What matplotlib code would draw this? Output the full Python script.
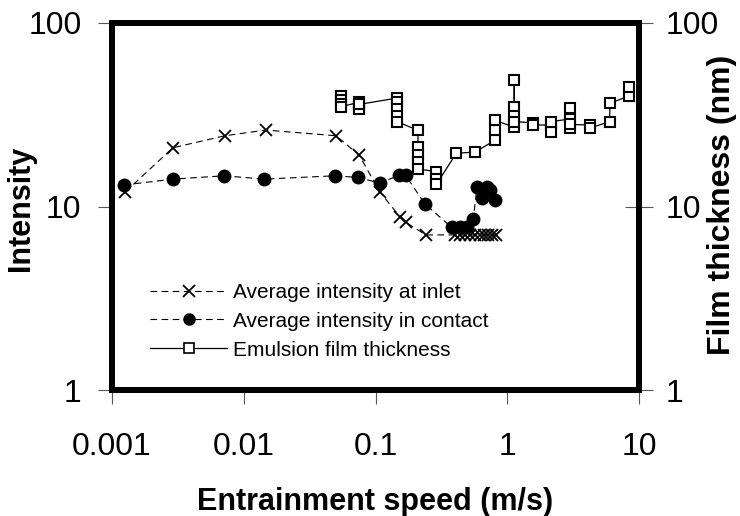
import matplotlib
matplotlib.use('Agg')
import matplotlib.pyplot as plt
from matplotlib.ticker import FixedLocator, FixedFormatter, NullLocator
from matplotlib.lines import Line2D

plt.rcParams['font.family'] = ['Liberation Sans', 'DejaVu Sans']

# ---------------- data ----------------
inlet_x = [0.00126, 0.0029, 0.0072, 0.0147, 0.050, 0.075, 0.108, 0.153, 0.170, 0.241,
           0.40, 0.44, 0.48, 0.52, 0.57, 0.62, 0.67, 0.72, 0.77, 0.82]
inlet_y = [12.0, 20.9, 24.3, 26.1, 24.3, 19.1, 12.0, 8.8, 8.2, 7.0,
           7.0, 7.0, 7.0, 7.0, 7.0, 7.0, 7.0, 7.0, 7.0, 7.0]

contact_x = [0.00123, 0.0029, 0.0071, 0.0143, 0.049, 0.074, 0.108, 0.151, 0.169, 0.238,
             0.378, 0.438, 0.492, 0.552, 0.589, 0.64, 0.70, 0.74, 0.81]
contact_y = [13.1, 14.1, 14.7, 14.1, 14.7, 14.4, 13.4, 14.8, 14.8, 10.3,
             7.7, 7.7, 7.7, 8.5, 12.8, 11.1, 12.8, 12.3, 10.8]

film_x = [0.055, 0.055, 0.055, 0.055,
          0.075, 0.075, 0.075, 0.075,
          0.146, 0.146, 0.146, 0.146, 0.146,
          0.21, 0.21, 0.21, 0.21, 0.21,
          0.29, 0.29, 0.29,
          0.41, 0.57,
          0.81, 0.81, 0.81,
          1.13, 1.13, 1.13, 1.13, 1.13,
          1.58, 1.58,
          2.15, 2.15, 2.15,
          3.0, 3.0, 3.0, 3.0,
          4.25, 4.25,
          6.0, 6.0,
          8.4, 8.4]
film_y = [40, 38, 36, 35,
          37, 35, 34, 36,
          39, 37, 34, 31, 29,
          26, 21, 19, 17.5, 16,
          15.5, 14.2, 13.2,
          19.5, 19.8,
          23, 26, 29.5,
          27, 35, 49, 31, 29,
          28.6, 27.8,
          27.8, 25.5, 29,
          30, 34.3, 26.7, 28,
          27.8, 26.8,
          29, 36.5,
          40, 45]

labels = ['Average intensity at inlet', 'Average intensity in contact', 'Emulsion film thickness']
x_ticks = [0.001, 0.01, 0.1, 1, 10]
x_ticklabels = ['0.001', '0.01', '0.1', '1', '10']
y_ticks = [1, 10, 100]
y_ticklabels = ['1', '10', '100']

# ---------------- figure ----------------
W, H = 740, 516
fig = plt.figure(figsize=(W / 100, H / 100), dpi=100)
L, R, T, B = 112, 639, 23, 390
ax = fig.add_axes([L / W, 1 - B / H, (R - L) / W, (B - T) / H])
ax.set_xscale('log')
ax.set_yscale('log')
ax.set_xlim(0.001, 10)
ax.set_ylim(1, 100)

ax2 = ax.twinx()
ax2.set_yscale('log')
ax2.set_ylim(1, 100)

dash = (0, (6, 4))
l1, = ax.plot(inlet_x, inlet_y, color='black', lw=0.8, linestyle=dash,
              marker='x', markersize=9, markeredgewidth=1.3)
l2, = ax.plot(contact_x, contact_y, color='black', lw=0.8, linestyle=dash,
              marker='o', markersize=9, markerfacecolor='black', markeredgecolor='black')
l3, = ax2.plot(film_x, film_y, color='black', lw=0.9, linestyle='-',
               marker='s', markersize=7.5, markerfacecolor='white',
               markeredgecolor='black', markeredgewidth=1.5)

for a in (ax, ax2):
    for s in a.spines.values():
        s.set_linewidth(4.3)
        s.set_color('black')
        s.set_capstyle('projecting')

ax.xaxis.set_major_locator(FixedLocator(x_ticks))
ax.xaxis.set_major_formatter(FixedFormatter(x_ticklabels))
ax.xaxis.set_minor_locator(NullLocator())
ax.yaxis.set_major_locator(FixedLocator(y_ticks))
ax.yaxis.set_major_formatter(FixedFormatter(y_ticklabels))
ax.yaxis.set_minor_locator(NullLocator())
ax2.yaxis.set_major_locator(FixedLocator(y_ticks))
ax2.yaxis.set_major_formatter(FixedFormatter(y_ticklabels))
ax2.yaxis.set_minor_locator(NullLocator())

ax.tick_params(axis='x', which='major', direction='out', length=10, width=0.8,
               color='#555555', labelsize=23, pad=20)
ax.tick_params(axis='y', which='major', direction='out', length=10, width=0.8,
               color='#555555', labelsize=23, pad=12)
ax2.tick_params(axis='y', which='major', direction='inout', length=20, width=0.8,
                color='#555555', labelsize=23, pad=9)

fig.text(375.5 / W, 1 - 510 / H, 'Entrainment speed (m/s)', ha='center', va='baseline',
         fontsize=22, fontweight='bold')
fig.text(21 / W, 1 - 208 / H, 'Intensity', ha='center', va='center', rotation=90,
         fontsize=22, fontweight='bold')
fig.text(722 / W, 1 - 205 / H, 'Film thickness (nm)', ha='center', va='center', rotation=90,
         fontsize=23, fontweight='bold')

h1 = Line2D([], [], color='black', lw=0.8, linestyle=dash, marker='x', markersize=9,
            markeredgewidth=1.3)
h2 = Line2D([], [], color='black', lw=0.8, linestyle=dash, marker='o', markersize=8)
h3 = Line2D([], [], color='black', lw=0.9, linestyle='-', marker='s', markersize=6.5,
            markerfacecolor='white', markeredgecolor='black', markeredgewidth=1.2)
leg = ax2.legend([h1, h2, h3], labels, loc='upper left',
                 bbox_to_anchor=((150 - L) / (R - L), (B - 283) / (B - T)),
                 frameon=False, fontsize=15, handlelength=3.7, handletextpad=0.3,
                 borderpad=0, borderaxespad=0, labelspacing=0.47, numpoints=1)

fig.savefig('out.png', dpi=100)
